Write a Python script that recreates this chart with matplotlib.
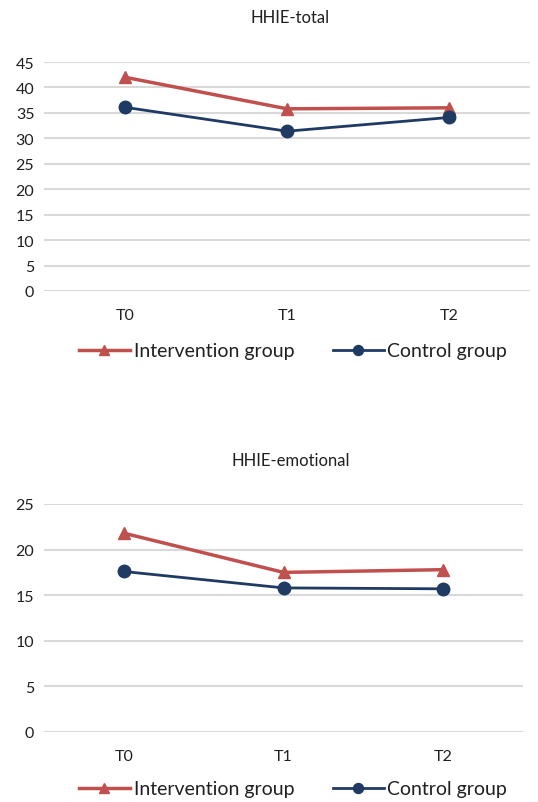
import numpy as np
import matplotlib.pyplot as plt

plt.rcParams['font.family'] = ['Lato', 'DejaVu Sans']

# Scores per time point
times = ['T0', 'T1', 'T2']
total_intervention = [42.0, 35.8, 36.0]
total_control = [36.1, 31.4, 34.1]
emo_intervention = [21.8, 17.5, 17.8]
emo_control = [17.6, 15.8, 15.7]

red = '#C0504D'
navy = '#1F3B63'
grid = '#D9D9D9'

fig = plt.figure(figsize=(5.38, 8.03), dpi=100)


def draw(ax, title, inter, ctrl, ymax, title_y, legend_y):
    x = np.arange(len(times))
    ax.plot(x, inter, color=red, lw=2.5, marker='^', ms=9, label='Intervention group', zorder=3)
    ax.plot(x, ctrl, color=navy, lw=2.0, marker='o', ms=9, label='Control group', zorder=3)
    ax.set_xlim(-0.5, len(times) - 0.5)
    ax.set_ylim(0, ymax)
    ax.set_yticks(np.arange(0, ymax + 1, 5))
    ax.set_xticks(x)
    ax.set_xticklabels(times)
    ax.yaxis.grid(True, color=grid, lw=1.5)
    ax.set_axisbelow(True)
    for s in ax.spines.values():
        s.set_visible(False)
    ax.tick_params(length=0, labelsize=11.5, colors='#202020')
    ax.tick_params(axis='x', pad=12)
    ax.tick_params(axis='y', pad=7)
    fig.text(0.54, title_y, title, ha='center', va='center', fontsize=12, color='#202020')
    fig.legend(*ax.get_legend_handles_labels(), loc='center', bbox_to_anchor=(0.545, legend_y),
               ncol=2, frameon=False, fontsize=14, handlelength=2.6, columnspacing=2.0,
               handletextpad=0.2, labelcolor='#202020', markerscale=0.8)


ax1 = fig.add_axes([44 / 538, 1 - 292 / 803, 486 / 538, 229 / 803])
draw(ax1, 'HHIE-total', total_intervention, total_control, 45, 1 - 18 / 803, 1 - 352 / 803)

ax2 = fig.add_axes([44 / 538, 1 - 733 / 803, 479 / 538, 228 / 803])
draw(ax2, 'HHIE-emotional', emo_intervention, emo_control, 25, 1 - 461 / 803, 1 - 790 / 803)

fig.savefig('out.png', dpi=100)
